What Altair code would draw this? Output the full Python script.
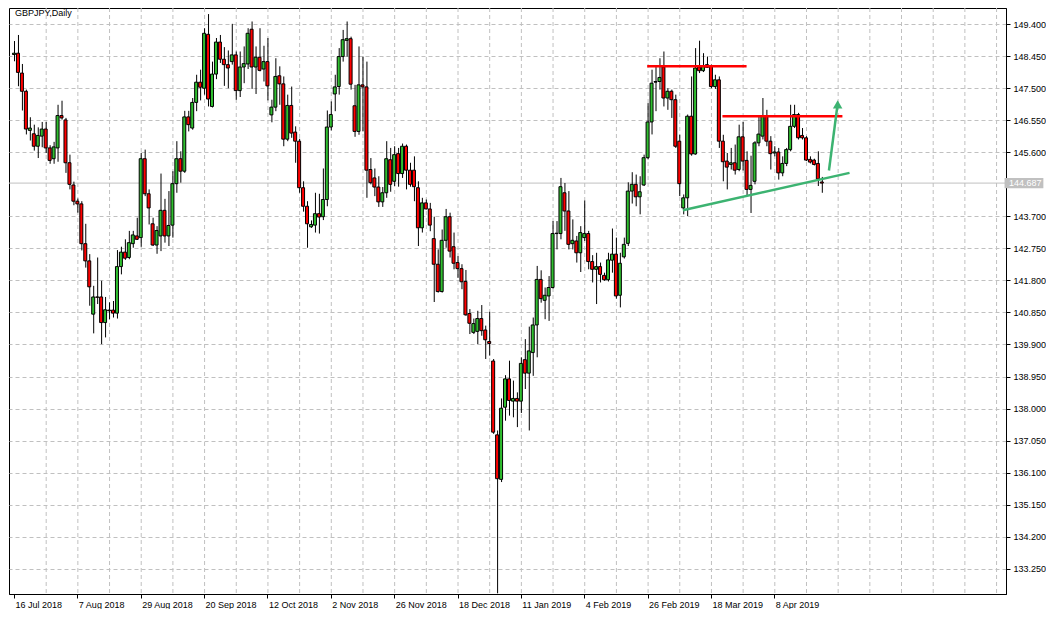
import altair as alt
import pandas as pd

# ---- OHLC values (GBPJPY daily) ----
opens = [148.50, 148.54, 147.95, 147.41, 146.25, 146.15, 145.78, 146.08, 146.29, 145.73,
         145.41, 145.73, 146.69, 146.56, 145.29, 144.63, 144.15, 144.07, 142.89, 142.38,
         140.80, 141.31, 141.31, 140.55, 140.92, 140.92, 140.83, 142.21, 142.64, 142.48,
         142.89, 143.12, 143.07, 145.41, 144.37, 143.48, 142.85, 143.12, 143.88, 143.12,
         143.44, 144.67, 145.41, 145.04, 146.65, 146.32, 147.08, 147.68, 147.50, 149.10,
         146.96, 147.92, 148.87, 148.36, 148.20, 148.29, 148.49, 147.43, 148.13, 148.22,
         149.25, 148.13, 148.42, 148.07, 148.29, 146.71, 146.94, 147.87, 147.63, 145.99,
         146.99, 146.20, 145.93, 144.55, 144.00, 143.39, 143.44, 143.78, 143.69, 144.20,
         146.35, 147.33, 147.55, 148.44, 148.92, 148.97, 146.98, 146.22, 147.60, 147.54,
         145.09, 144.84, 144.57, 144.13, 144.40, 145.38, 144.74, 145.56, 144.97, 145.78,
         145.07, 145.07, 144.55, 143.36, 144.10, 143.92, 143.04, 142.28, 141.47, 142.99,
         143.69, 142.80, 142.33, 142.15, 141.77, 140.82, 140.26, 140.29, 140.67, 140.33,
         139.99, 139.41, 137.22, 135.90, 138.04, 138.88, 138.22, 138.30, 138.22, 139.45,
         139.05, 139.66, 140.48, 141.83, 141.21, 141.34, 141.59, 143.19, 143.19, 144.40,
         143.86, 142.89, 142.97, 142.62, 143.07, 143.19, 142.36, 142.13, 142.21, 141.95,
         141.82, 142.40, 142.58, 141.36, 142.50, 142.90, 144.45, 144.65, 144.28, 144.63,
         145.44, 146.50, 147.68, 147.70, 148.13, 147.21, 147.41, 147.16, 145.93, 143.95,
         144.25, 146.67, 145.55, 148.13, 148.02, 148.20, 148.15, 147.55, 147.75, 145.93,
         145.34, 145.24, 145.29, 145.09, 146.06, 145.36, 144.50, 144.74, 145.88, 146.08,
         146.67, 145.93, 145.58, 145.61, 144.99, 145.27, 145.68, 146.37, 146.72, 146.10,
         146.03, 145.39, 145.37, 145.27, 144.72]
highs = [148.90, 149.08, 148.22, 147.46, 146.64, 146.42, 146.34, 146.50, 146.50, 145.81,
         145.91, 147.01, 147.13, 146.62, 145.53, 144.73, 144.23, 144.15, 143.48, 142.58,
         141.64, 142.48, 141.79, 141.31, 141.15, 141.19, 142.70, 142.80, 143.02, 143.27,
         143.27, 143.66, 145.58, 145.68, 144.50, 143.66, 143.41, 144.97, 144.22, 144.45,
         145.04, 145.93, 145.63, 146.83, 146.83, 147.21, 147.90, 148.05, 149.28, 149.70,
         148.29, 148.99, 149.08, 148.72, 148.62, 149.41, 148.59, 148.59, 148.74, 149.28,
         149.48, 148.74, 149.28, 148.76, 148.99, 147.16, 148.39, 148.15, 147.85, 147.31,
         147.55, 146.37, 146.00, 144.74, 144.15, 143.58, 144.40, 144.37, 145.12, 146.84,
         147.11, 147.90, 148.69, 149.23, 149.48, 149.03, 147.60, 148.74, 148.44, 148.29,
         145.43, 145.12, 144.89, 144.57, 145.93, 145.73, 145.78, 145.73, 145.86, 145.83,
         145.29, 145.48, 144.74, 144.25, 144.20, 144.10, 143.69, 142.72, 143.31, 143.92,
         143.81, 143.22, 142.52, 142.28, 142.11, 140.95, 140.67, 140.90, 141.07, 140.46,
         140.87, 139.47, 137.35, 138.30, 138.99, 139.42, 138.83, 138.48, 139.52, 140.06,
         140.43, 140.70, 142.23, 142.10, 141.59, 141.93, 143.56, 143.56, 144.84, 144.69,
         144.45, 143.61, 143.12, 143.41, 144.17, 143.27, 142.55, 142.62, 142.33, 142.03,
         142.62, 143.34, 143.07, 142.62, 143.07, 144.71, 145.01, 144.94, 144.89, 145.53,
         147.06, 148.05, 148.15, 148.39, 148.59, 147.50, 147.46, 147.31, 146.12, 144.35,
         146.72, 147.85, 148.69, 148.91, 148.54, 148.44, 148.20, 147.90, 147.85, 146.12,
         145.58, 145.73, 145.83, 146.42, 146.50, 145.63, 145.50, 145.93, 146.67, 147.21,
         146.86, 146.08, 145.78, 145.73, 145.48, 145.73, 147.01, 147.01, 146.77, 146.32,
         146.08, 145.48, 145.41, 145.63, 144.87]
lows = [148.30, 147.56, 146.84, 146.13, 145.95, 145.65, 145.43, 145.75, 145.58, 145.26,
        145.26, 145.32, 146.57, 144.99, 144.50, 144.03, 143.81, 142.69, 142.18, 141.05,
        140.23, 141.10, 139.91, 140.11, 140.65, 140.70, 140.67, 141.98, 142.41, 142.43,
        142.77, 143.00, 142.80, 144.30, 143.46, 142.82, 142.59, 142.67, 142.92, 142.82,
        143.07, 144.40, 144.70, 144.99, 146.22, 146.27, 146.82, 147.14, 147.31, 146.96,
        146.93, 147.77, 148.25, 147.57, 147.50, 148.20, 147.16, 147.24, 147.65, 148.07,
        147.48, 147.33, 148.00, 147.70, 147.14, 146.49, 146.82, 147.01, 145.78, 145.93,
        146.03, 145.29, 144.40, 143.84, 142.77, 143.36, 143.22, 143.19, 143.59, 144.00,
        146.25, 146.82, 147.31, 148.29, 148.44, 147.46, 146.06, 146.12, 146.22, 144.25,
        144.65, 144.30, 143.98, 143.98, 144.25, 144.43, 144.60, 144.58, 144.84, 144.50,
        144.58, 144.15, 142.82, 143.22, 143.91, 143.26, 141.16, 141.44, 141.44, 142.77,
        142.48, 142.13, 141.88, 141.54, 140.75, 140.21, 140.21, 139.91, 140.16, 139.47,
        139.57, 137.25, 132.52, 135.82, 137.64, 137.79, 137.74, 137.45, 137.87, 138.58,
        137.35, 138.97, 139.52, 141.14, 140.65, 140.60, 141.56, 142.72, 143.02, 143.27,
        142.72, 142.72, 142.33, 142.05, 142.97, 142.13, 141.74, 141.10, 141.74, 141.79,
        141.77, 142.03, 141.26, 141.00, 142.45, 142.82, 144.08, 144.00, 143.76, 144.60,
        145.39, 146.13, 146.82, 147.46, 146.96, 146.86, 146.62, 145.73, 144.30, 143.76,
        143.71, 145.50, 145.53, 147.95, 147.98, 148.10, 147.50, 147.48, 145.73, 144.74,
        144.50, 145.09, 144.94, 145.04, 145.06, 144.30, 143.80, 144.65, 145.78, 145.98,
        145.78, 145.09, 145.48, 144.79, 144.89, 145.19, 145.63, 146.32, 145.98, 145.98,
        145.34, 145.27, 145.21, 144.60, 144.40]
closes = [148.54, 147.97, 147.41, 146.29, 146.32, 145.78, 146.10, 146.29, 145.73, 145.36,
          145.76, 146.69, 146.62, 145.29, 144.65, 144.15, 144.07, 142.89, 142.38, 141.61,
          141.31, 141.30, 140.55, 140.93, 140.90, 140.83, 142.21, 142.64, 142.46, 142.92,
          143.15, 143.02, 145.41, 144.37, 143.95, 142.85, 143.28, 143.88, 143.12, 143.43,
          144.67, 145.41, 145.04, 146.65, 146.42, 147.08, 147.68, 147.53, 149.13, 147.18,
          147.92, 148.87, 148.36, 148.20, 148.10, 148.49, 147.43, 148.13, 148.23, 149.13,
          148.13, 148.42, 148.03, 148.29, 147.57, 146.94, 147.85, 147.63, 145.99, 146.99,
          146.17, 145.93, 144.55, 144.00, 143.48, 143.46, 143.78, 143.68, 144.20, 146.35,
          146.72, 147.54, 148.44, 148.94, 148.97, 147.62, 146.22, 147.60, 147.54, 145.07,
          144.70, 144.57, 144.13, 144.40, 145.41, 144.65, 145.53, 144.97, 145.78, 145.07,
          144.65, 144.58, 143.36, 144.10, 143.92, 143.44, 142.28, 141.47, 142.99, 143.69,
          142.67, 142.31, 142.15, 141.76, 140.78, 140.53, 140.52, 140.67, 140.31, 140.04,
          139.93, 137.30, 135.92, 138.01, 138.88, 138.24, 138.30, 138.22, 139.34, 139.05,
          139.71, 140.48, 141.83, 141.26, 141.36, 141.59, 143.19, 143.20, 144.58, 143.86,
          142.87, 142.99, 142.62, 143.22, 143.19, 142.36, 142.13, 142.21, 141.98, 141.82,
          142.41, 142.58, 141.34, 142.31, 142.87, 144.45, 144.65, 144.28, 144.43, 145.44,
          146.50, 147.65, 147.70, 147.82, 147.21, 147.41, 147.16, 145.78, 144.67, 144.25,
          146.67, 145.55, 148.10, 148.02, 148.15, 148.12, 147.55, 147.75, 145.93, 145.32,
          145.16, 145.29, 145.07, 146.06, 145.34, 144.50, 144.62, 145.88, 146.14, 146.67,
          145.93, 145.56, 145.61, 144.99, 145.27, 145.68, 146.37, 146.72, 146.03, 146.03,
          145.37, 145.31, 145.24, 144.81, 144.687]

# ---- axis labels ----
date_labels = ["16 Jul 2018", "7 Aug 2018", "29 Aug 2018", "20 Sep 2018", "12 Oct 2018",
               "2 Nov 2018", "26 Nov 2018", "18 Dec 2018", "11 Jan 2019", "4 Feb 2019",
               "26 Feb 2019", "18 Mar 2019", "8 Apr 2019"]
date_label_bars = [0, 16, 32, 48, 64, 80, 96, 112, 128, 144, 160, 176, 192]
price_ticks = [133.25, 134.20, 135.15, 136.10, 137.05, 138.00, 138.95, 139.90, 140.85,
               141.80, 142.75, 143.70, 145.60, 146.55, 147.50, 148.45, 149.40]
grid_bars = list(range(8, 256, 8))
last_price = 144.687

# ---- drawn annotations (bar index, price) ----
res_x1 = [159.9, 178.9]
res_x2 = [185.0, 209.2]
res_price = [148.15, 146.67]
trend_x = [168.9, 211.0]
trend_price = [143.88, 144.99]
arrow_x = [205.8, 207.9]
arrow_price = [145.06, 146.95]
arrow_head_x = [208.0]
arrow_head_price = [147.02]

GREEN = "#2fbf2f"
RED = "#ff0000"
LINE_GREEN = "#3cb371"
GRID = "#c0c0c0"
FONT = "Liberation Sans"

X0, X1 = 0.0, 249.25
Y0, Y1 = 132.50, 149.88

df = pd.DataFrame({"i": list(range(len(opens))), "open": opens, "high": highs,
                   "low": lows, "close": closes})
df["dir"] = ["up" if c >= o else "down" for o, c in zip(opens, closes)]

xscale = alt.Scale(domain=[X0, X1], nice=False, zero=False)
yscale = alt.Scale(domain=[Y0, Y1], nice=False, zero=False)

labels_js = "[" + ",".join("'" + s + "'" for s in date_labels) + "]"
xaxis = alt.Axis(values=date_label_bars, labelExpr=labels_js + "[round(datum.value/16)]",
                 grid=False, domainColor="black", tickColor="black", tickSize=4,
                 labelAlign="left", labelOffset=1, labelPadding=2, labelFont=FONT,
                 labelFontSize=9, labelColor="black", title=None, labelFlush=False,
                 labelOverlap=False, labelBound=False)
yaxis = alt.Axis(orient="right", values=price_ticks, format=".3f", grid=True,
                 gridDash=[4, 3], gridColor=GRID, domainColor="black", tickColor="black",
                 tickSize=4, labelPadding=3, labelFont=FONT, labelFontSize=9,
                 labelColor="black", title=None, labelOverlap=False, labelFlush=False)


def X(field):
    return alt.X(field, scale=xscale, axis=xaxis)


def Y(field):
    return alt.Y(field, scale=yscale, axis=yaxis)


base = alt.Chart(df)

vgrid = alt.Chart(pd.DataFrame({"g": grid_bars})).mark_rule(
    color=GRID, strokeDash=[4, 3], strokeWidth=1, clip=True, xOffset=0.5
).encode(x=X("g:Q"))

price_line = alt.Chart(pd.DataFrame({"p": [last_price]})).mark_rule(
    color=GRID, strokeWidth=1
).encode(y=Y("p:Q"))

wicks = base.mark_rule(color="black", strokeWidth=1, clip=True, xOffset=0.5).encode(
    x=X("i:Q"), y=Y("low:Q"), y2="high:Q",
)
bodies = base.mark_bar(size=3, stroke="black", strokeWidth=1, clip=True).encode(
    x=X("i:Q"), y=Y("open:Q"), y2="close:Q",
    color=alt.Color("dir:N", scale=alt.Scale(domain=["up", "down"], range=[GREEN, RED]),
                    legend=None),
)

res = alt.Chart(pd.DataFrame({"x1": res_x1, "x2": res_x2, "p": res_price})).mark_rule(
    color=RED, strokeWidth=2.5
).encode(x=X("x1:Q"), x2="x2:Q", y=Y("p:Q"))

trend = alt.Chart(pd.DataFrame({"x": trend_x, "p": trend_price})).mark_line(
    color=LINE_GREEN, strokeWidth=2.5
).encode(x=X("x:Q"), y=Y("p:Q"))

arrow = alt.Chart(pd.DataFrame({"x": arrow_x, "p": arrow_price})).mark_line(
    color=LINE_GREEN, strokeWidth=2.5
).encode(x=X("x:Q"), y=Y("p:Q"))

arrow_head = alt.Chart(pd.DataFrame({"x": arrow_head_x, "p": arrow_head_price})).mark_point(
    shape="triangle-up", filled=True, size=90, color=LINE_GREEN, opacity=1
).encode(x=X("x:Q"), y=Y("p:Q"))

box = alt.Chart(pd.DataFrame({"p": [last_price]})).mark_rect(color="#c0c0c0").encode(
    x=alt.datum(X1 + 0.9, scale=xscale, axis=xaxis), x2=alt.datum(X1 + 10.7),
    y=alt.datum(last_price + 0.15, scale=yscale, axis=yaxis), y2=alt.datum(last_price - 0.15),
)
box_text = alt.Chart(pd.DataFrame({"p": [last_price]})).mark_text(
    align="left", baseline="middle", color="white", font=FONT, fontSize=9, dx=8
).encode(x=alt.datum(X1, scale=xscale, axis=xaxis), y=Y("p:Q"),
         text=alt.value("144.687"))

title_text = alt.Chart(pd.DataFrame({"t": ["GBPJPY,Daily"]})).mark_text(
    align="left", baseline="middle", color="black", font=FONT, fontSize=9, dx=1
).encode(x=alt.datum(X0, scale=xscale, axis=xaxis),
         y=alt.datum(149.74, scale=yscale, axis=yaxis), text="t:N")

chart = alt.layer(
    vgrid, price_line, wicks, bodies, res, trend, arrow, arrow_head, box, box_text, title_text
).properties(
    width=997, height=586, padding={"left": 0, "top": 0, "right": 0, "bottom": 0},
    background="white",
).configure_view(stroke="black", strokeWidth=1).configure_axis(labelOverlap=False)

chart.save("out.html", embed_options={"renderer": "svg", "actions": False})
